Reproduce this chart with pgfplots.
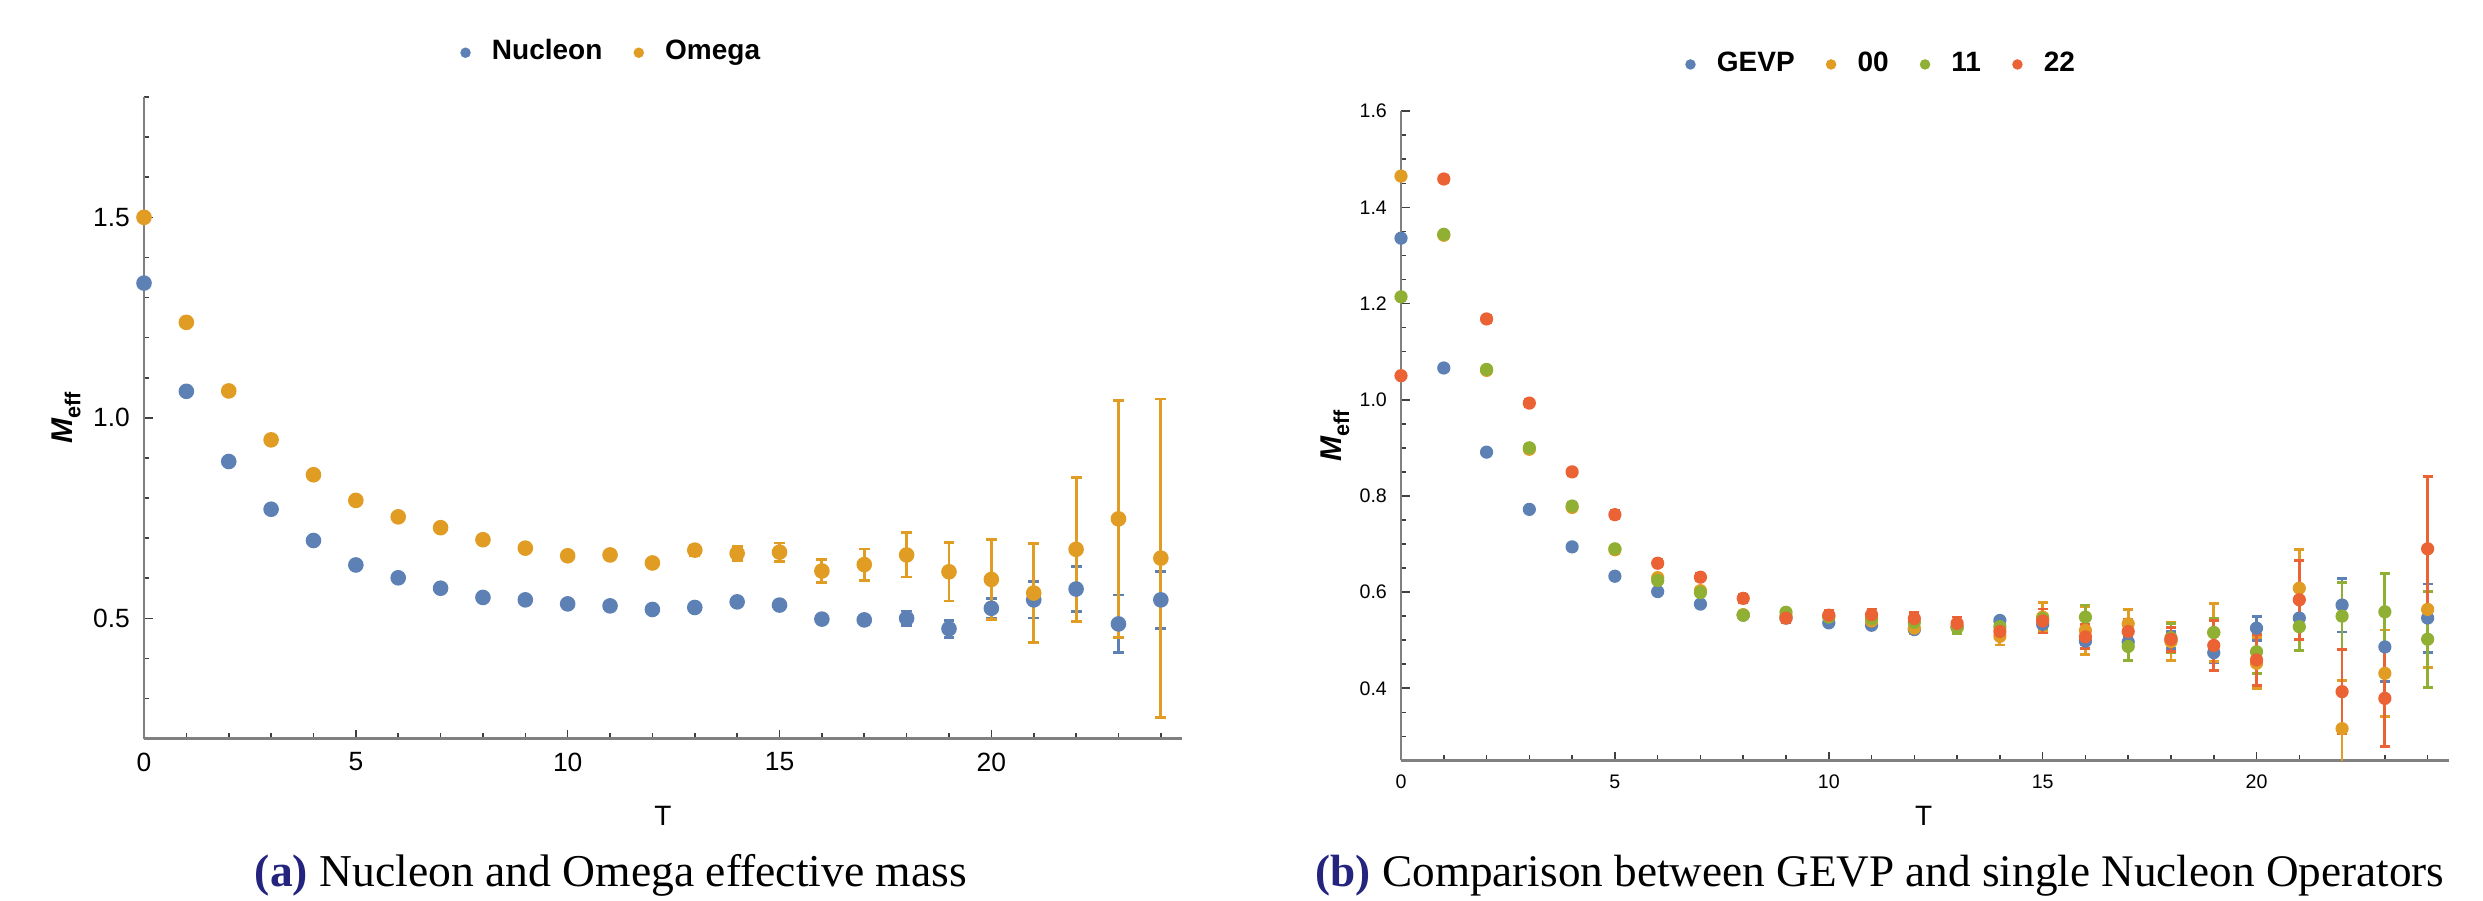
\documentclass[border=0pt]{standalone}
\usepackage{pgfplots}
\pgfplotsset{compat=1.18}
\usepackage{pgfplotstable}
\usepackage{fontspec}
\setmainfont{Liberation Serif}
\setsansfont{Liberation Sans}

\definecolor{mblue}{HTML}{5E81B5}
\definecolor{morange}{HTML}{E19C24}
\definecolor{mgreen}{HTML}{8FB032}
\definecolor{mred}{HTML}{EB6235}
\definecolor{capblue}{HTML}{24247E}

% T, value, error
\pgfplotstableread{
T  N      Ne     O      Oe
0  1.336  0.004  1.500  0.003
1  1.066  0.003  1.238  0.003
2  0.891  0.003  1.067  0.003
3  0.772  0.003  0.945  0.003
4  0.694  0.003  0.858  0.003
5  0.633  0.003  0.794  0.003
6  0.601  0.003  0.753  0.003
7  0.575  0.004  0.726  0.004
8  0.552  0.004  0.696  0.004
9  0.546  0.004  0.675  0.004
10 0.536  0.005  0.656  0.005
11 0.531  0.005  0.658  0.006
12 0.522  0.005  0.638  0.007
13 0.527  0.006  0.670  0.013
14 0.541  0.006  0.662  0.018
15 0.533  0.007  0.665  0.023
16 0.498  0.008  0.618  0.029
17 0.496  0.012  0.634  0.039
18 0.500  0.018  0.658  0.055
19 0.474  0.021  0.616  0.073
20 0.525  0.025  0.597  0.100
21 0.546  0.045  0.563  0.123
22 0.573  0.056  0.672  0.180
23 0.486  0.072  0.748  0.295
24 0.546  0.071  0.650  0.397
}\effmass

\pgfplotstableread{
T  A      Ae     B      Be     C      Ce
0  1.465  0.007  1.214  0.007  1.050  0.007
1  1.342  0.007  1.344  0.007  1.459  0.008
2  1.061  0.007  1.063  0.007  1.168  0.008
3  0.897  0.007  0.900  0.007  0.993  0.008
4  0.776  0.007  0.779  0.007  0.850  0.008
5  0.688  0.007  0.690  0.007  0.761  0.008
6  0.630  0.007  0.624  0.007  0.660  0.008
7  0.603  0.007  0.599  0.007  0.631  0.008
8  0.553  0.007  0.552  0.007  0.587  0.008
9  0.550  0.007  0.558  0.007  0.546  0.009
10 0.550  0.007  0.548  0.007  0.552  0.009
11 0.540  0.008  0.545  0.008  0.553  0.012
12 0.525  0.012  0.537  0.010  0.545  0.012
13 0.528  0.013  0.526  0.012  0.535  0.013
14 0.508  0.018  0.528  0.020  0.518  0.015
15 0.548  0.030  0.545  0.020  0.540  0.025
16 0.520  0.050  0.548  0.025  0.507  0.025
17 0.534  0.030  0.487  0.030  0.518  0.025
18 0.497  0.040  0.505  0.030  0.502  0.025
19 0.516  0.060  0.516  0.030  0.489  0.052
20 0.452  0.053  0.476  0.045  0.459  0.053
21 0.608  0.080  0.528  0.050  0.584  0.082
22 0.316  0.100  0.550  0.070  0.393  0.088
23 0.431  0.090  0.559  0.080  0.379  0.100
24 0.564  0.120  0.502  0.100  0.690  0.150
}\ops

\pgfplotsset{
  mma/.style={
    scale only axis,
    axis lines=left,
    axis line style={-, draw=black!50, line width=0.7pt},
    tick align=inside,
    major tick length=2.2pt, minor tick length=1.3pt,
    every tick/.style={draw=black!75, line width=0.4pt},
    xmin=0, xmax=24.5,
    xtick={0,5,10,15,20}, minor xtick={0,...,24},
    /pgf/number format/assume math mode=true,
    yticklabel style={/pgf/number format/.cd, fixed, fixed zerofill, precision=1},
    legend columns=-1,
    legend image code/.code={\fill (0pt,0pt) circle (1.1pt);},
    legend style={draw=none, fill=none, anchor=center,
      font=\sffamily\bfseries\fontsize{7}{8}\selectfont,
      /tikz/every odd column/.append style={column sep=3.3pt},
      /tikz/every even column/.append style={column sep=5.8pt}},
    xlabel={T},
    ylabel={\textbf{\textit{M}}\raisebox{-0.5ex}{\bfseries\fontsize{5.4}{6}\selectfont eff}},
  },
  pts/.style n args={3}{only marks, mark=*, mark size=#2,
    color=#1, mark options={draw=none, fill=#1},
    error bars/.cd, y dir=both, y explicit, error mark=-,
    error bar style={line width=0.7pt, color=#1},
    error mark options={rotate=90, line width=0.7pt, mark size=#3, color=#1}},
}

\begin{document}
\begin{tikzpicture}
\path[use as bounding box] (0,0) rectangle (620.75pt,225pt);

% (a)
\begin{axis}[mma,
  at={(36pt,40.35pt)}, anchor=south west,
  width=259.5pt, height=160.4pt,
  ymin=0.2, ymax=1.8,
  ytick={0.5,1.0,1.5},
  minor ytick={0.2,0.3,0.4,0.6,0.7,0.8,0.9,1.1,1.2,1.3,1.4,1.6,1.7,1.8},
  ticklabel style={font=\sffamily\fontsize{6.6}{7}\selectfont},
  every axis x label/.style={at={(axis description cs:0.5,-0.1206)}, anchor=center,
    font=\sffamily\fontsize{7}{8}\selectfont},
  every axis y label/.style={at={(axis description cs:-0.075,0.5)}, rotate=90, anchor=center,
    font=\sffamily\fontsize{7.5}{8}\selectfont},
  legend style={at={(0.453,1.069)}},
]
\addplot[pts={mblue}{1.75pt}{1.35pt}] table[x=T, y=N, y error=Ne] {\effmass};
\addlegendentry{Nucleon}
\addplot[pts={morange}{1.75pt}{1.35pt}] table[x=T, y=O, y error=Oe] {\effmass};
\addlegendentry{Omega}
\end{axis}

% (b)
\begin{axis}[mma,
  at={(350.25pt,34.9pt)}, anchor=south west,
  width=262pt, height=162.3pt,
  ymin=0.25, ymax=1.6,
  ytick={0.4,0.6,0.8,1.0,1.2,1.4,1.6},
  minor ytick={0.25,0.3,0.35,0.45,0.5,0.55,0.65,0.7,0.75,0.85,0.9,0.95,1.05,1.1,1.15,1.25,1.3,1.35,1.45,1.5,1.55},
  ticklabel style={font=\sffamily\fontsize{4.9}{5.5}\selectfont},
  every axis x label/.style={at={(axis description cs:0.4986,-0.0855)}, anchor=center,
    font=\sffamily\fontsize{7}{8}\selectfont},
  every axis y label/.style={at={(axis description cs:-0.063,0.5)}, rotate=90, anchor=center,
    font=\sffamily\fontsize{7.5}{8}\selectfont},
  legend style={at={(0.461,1.072)}},
]
\addplot[pts={mblue}{1.45pt}{1.25pt}] table[x=T, y=N, y error=Ne] {\effmass};
\addlegendentry{GEVP}
\addplot[pts={morange}{1.45pt}{1.25pt}] table[x=T, y=A, y error=Ae] {\ops};
\addlegendentry{00}
\addplot[pts={mgreen}{1.45pt}{1.25pt}] table[x=T, y=B, y error=Be] {\ops};
\addlegendentry{11}
\addplot[pts={mred}{1.45pt}{1.25pt}] table[x=T, y=C, y error=Ce] {\ops};
\addlegendentry{22}
\end{axis}

\node[anchor=base, font=\fontsize{11.4}{13}\selectfont] at (152.75pt,3.5pt)
  {{\color{capblue}\bfseries(a)} Nucleon and Omega effective mass};
\node[anchor=base, font=\fontsize{11.3}{13}\selectfont] at (470pt,3.5pt)
  {{\color{capblue}\bfseries(b)} Comparison between GEVP and single Nucleon Operators};
\end{tikzpicture}
\end{document}
